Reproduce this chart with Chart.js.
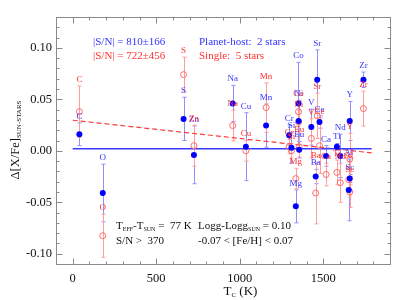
<!DOCTYPE html>
<html>
<head>
<meta charset="utf-8">
<script src="https://cdn.jsdelivr.net/npm/chart.js@4.4.1/dist/chart.umd.min.js"></script>
<style>
  html, body { margin: 0; padding: 0; background: #fff; }
  canvas { display: block; }
</style>
</head>
<body>
<canvas id="chart" width="407" height="300"></canvas>
<script>
// element names and condensation temperatures (K)
const elements = ['C', 'O', 'S', 'Zn', 'Na', 'Cu', 'Mn', 'Cr', 'Si', 'Mg', 'Co', 'Ni', 'Eu', 'V', 'Ba', 'Sr', 'Ce', 'Ca', 'Ti', 'Nd', 'Al', 'Y', 'Sc', 'Zr'];
const tcK = [40, 180, 664, 726, 958, 1037, 1158, 1296, 1310, 1336, 1352, 1353, 1356, 1429, 1455, 1464, 1478, 1517, 1582, 1602, 1653, 1659, 1659, 1741];

// planet-host stars (blue, filled)
const hostVals = [0.016, -0.041, 0.031, -0.004, 0.046, 0.004, 0.0245, 0.015, 0.003, -0.054, 0.046, 0.029, 0.001, 0.023, -0.025, 0.069, 0.028, -0.005, 0.004, -0.005, -0.038, 0.029, -0.027, 0.069];
const hostErr = [0.011, 0.028, 0.021, 0.028, 0.0175, 0.033, 0.021, 0.010, 0.015, 0.016, 0.040, 0.020, 0.008, 0.0175, 0.007, 0.029, 0.006, 0.010, 0.003, 0.021, 0.030, 0.019, 0.004, 0.0075];

// single stars (red, open)
const singleVals = [0.038, -0.0825, 0.074, 0.005, 0.0245, 0.000, 0.042, 0.004, 0.000, -0.027, 0.038, 0.028, 0.004, 0.012, -0.041, 0.034, 0.005, -0.023, -0.021, -0.031, -0.028, -0.008, -0.040, 0.041];
const singleErr = [0.025, 0.021, 0.017, 0.020, 0.015, 0.010, 0.024, 0.007, 0.007, 0.010, 0.011, 0.011, 0.010, 0.019, 0.030, 0.022, 0.027, 0.011, 0.012, 0.019, 0.017, 0.025, 0.015, 0.017];

// linear fits
const fitTc = [0, 1790];
const hostFit = [0.0021, 0.0021];
const singleFit = [0.0297, -0.002];

// axes
const xTicks = [0, 500, 1000, 1500];
const yTicks = [-0.10, -0.05, 0.00, 0.05, 0.10];

const BLUE = '#0000ff';
const BLUE_BAR = '#8f8fff';
const BLUE_TXT = '#3434ff';
const RED = '#ff6a6a';
const RED_BAR = '#ff9c9c';
const RED_TXT = '#ff3030';
const SERIF = '"Liberation Serif", "DejaVu Serif", serif';

const pts = (xs, ys) => xs.map((x, i) => ({x, y: ys[i]}));

// draw text with optional subscript parts: [[text, isSub], ...]
function richText(ctx, parts, x, y, size, align) {
  const subSize = Math.round(size * 0.52);
  let w = 0;
  parts.forEach(([t, sub]) => {
    ctx.font = `${sub ? subSize : size}px ${SERIF}`;
    w += ctx.measureText(t).width;
  });
  let cx = align === 'center' ? x - w / 2 : x;
  ctx.textAlign = 'left';
  ctx.textBaseline = 'alphabetic';
  parts.forEach(([t, sub]) => {
    ctx.font = `${sub ? subSize : size}px ${SERIF}`;
    ctx.fillText(t, cx, sub ? y + 2 : y);
    cx += ctx.measureText(t).width;
  });
}

const errorBars = {
  id: 'errorBars',
  beforeDatasetsDraw(chart) {
    const {ctx, scales: {x, y}} = chart;
    const draw = (vals, errs, color) => {
      ctx.save();
      ctx.strokeStyle = color;
      ctx.lineWidth = 1;
      vals.forEach((v, i) => {
        const px = Math.round(x.getPixelForValue(tcK[i])) + 0.5;
        const top = y.getPixelForValue(v + errs[i]);
        const bot = y.getPixelForValue(v - errs[i]);
        ctx.beginPath();
        ctx.moveTo(px, top); ctx.lineTo(px, bot);
        ctx.moveTo(px - 2, top); ctx.lineTo(px + 2, top);
        ctx.moveTo(px - 2, bot); ctx.lineTo(px + 2, bot);
        ctx.stroke();
      });
      ctx.restore();
    };
    draw(hostVals, hostErr, BLUE_BAR);
    draw(singleVals, singleErr, RED_BAR);
  },
  afterDatasetsDraw(chart) {
    const {ctx, scales: {x, y}} = chart;
    const label = (vals, errs, color) => {
      ctx.save();
      ctx.fillStyle = color;
      ctx.font = `9px ${SERIF}`;
      ctx.textAlign = 'center';
      ctx.textBaseline = 'bottom';
      vals.forEach((v, i) => {
        const px = x.getPixelForValue(tcK[i]);
        const top = y.getPixelForValue(v + errs[i]);
        ctx.fillText(elements[i], px, top - 2);
      });
      ctx.restore();
    };
    label(hostVals, hostErr, BLUE_TXT);
    label(singleVals, singleErr, RED_TXT);
  }
};

const frame = {
  id: 'frame',
  afterDraw(chart) {
    const {ctx, chartArea: a, scales: {x, y}} = chart;
    ctx.save();
    ctx.strokeStyle = '#8a8a8a';
    ctx.lineWidth = 1;
    const L = Math.round(a.left) + 0.5, R = Math.round(a.right) + 0.5;
    const T = Math.round(a.top) + 0.5, B = Math.round(a.bottom) + 0.5;
    ctx.strokeRect(L, T, R - L, B - T);
    ctx.beginPath();
    for (let v = -100; v <= 1900; v += 100) {
      const len = v % 500 === 0 ? 6 : 3;
      const px = Math.round(x.getPixelForValue(v)) + 0.5;
      ctx.moveTo(px, B); ctx.lineTo(px, B - len);
      ctx.moveTo(px, T); ctx.lineTo(px, T + len);
    }
    for (let k = -11; k <= 13; k++) {
      const len = k % 5 === 0 ? 6 : 3;
      const py = Math.round(y.getPixelForValue(k / 100)) + 0.5;
      ctx.moveTo(L, py); ctx.lineTo(L + len, py);
      ctx.moveTo(R, py); ctx.lineTo(R - len, py);
    }
    ctx.stroke();

    // annotations
    ctx.fillStyle = BLUE_TXT;
    richText(ctx, [['|S/N| = 810\u00b1166']], 93, 44.5, 11);
    richText(ctx, [['Planet-host:  2 stars']], 199, 44.5, 11);
    ctx.fillStyle = RED_TXT;
    richText(ctx, [['|S/N| = 722\u00b1456']], 93, 59, 11);
    richText(ctx, [['Single:  5 stars']], 199, 59, 11);

    ctx.fillStyle = '#111';
    richText(ctx, [['T'], ['EFF', true], ['-T'], ['SUN', true], [' =  77 K']], 116, 229, 11);
    richText(ctx, [['S/N >  370']], 116, 244, 11);
    richText(ctx, [['Logg-Logg'], ['SUN', true], [' = 0.10']], 198, 229, 11);
    richText(ctx, [['-0.07 < [Fe/H] < 0.07']], 198, 244, 11);

    // axis titles
    richText(ctx, [['T', false], ['C', true], [' (K)']], 223.5, 294.5, 13);
    ctx.translate(19, 140);
    ctx.rotate(-Math.PI / 2);
    richText(ctx, [['\u0394[X/Fe]'], ['SUN-STARS', true]], 0, 0, 12.5, 'center');
    ctx.restore();
  }
};

new Chart(document.getElementById('chart'), {
  type: 'scatter',
  data: {
    datasets: [
      {
        label: 'host',
        data: pts(tcK, hostVals),
        pointRadius: 3,
        pointBackgroundColor: BLUE,
        pointBorderColor: BLUE,
        pointBorderWidth: 0,
      },
      {
        label: 'single',
        data: pts(tcK, singleVals),
        pointRadius: 3,
        pointBackgroundColor: 'rgba(0,0,0,0)',
        pointBorderColor: RED,
        pointBorderWidth: 1,
      },
      {
        label: 'host fit',
        data: pts(fitTc, hostFit),
        showLine: true,
        pointRadius: 0,
        borderColor: '#3a3aff',
        borderWidth: 1.5,
      },
      {
        label: 'single fit',
        data: pts(fitTc, singleFit),
        showLine: true,
        pointRadius: 0,
        borderColor: '#ff3a3a',
        borderWidth: 1.2,
        borderDash: [5, 3],
      },
    ]
  },
  options: {
    responsive: false,
    animation: false,
    layout: {padding: {top: 17, right: 17, left: 0, bottom: 0}},
    plugins: {legend: {display: false}, tooltip: {enabled: false}},
    scales: {
      x: {
        type: 'linear',
        min: -100,
        max: 1900,
        grid: {display: false, drawTicks: false},
        border: {display: false},
        afterBuildTicks: s => { s.ticks = xTicks.map(value => ({value})); },
        afterFit: s => { s.height = 36; },
        ticks: {
          padding: 7,
          color: '#111',
          font: {family: SERIF, size: 12.5},
          callback: v => String(v),
        },
      },
      y: {
        type: 'linear',
        min: -0.11,
        max: 0.13,
        grid: {display: false, drawTicks: false},
        border: {display: false},
        afterBuildTicks: s => { s.ticks = yTicks.map(value => ({value})); },
        afterFit: s => { s.width = 56; },
        ticks: {
          padding: 4,
          color: '#111',
          font: {family: SERIF, size: 12.5},
          callback: v => v.toFixed(2),
        },
      },
    }
  },
  plugins: [errorBars, frame]
});
</script>
</body>
</html>
